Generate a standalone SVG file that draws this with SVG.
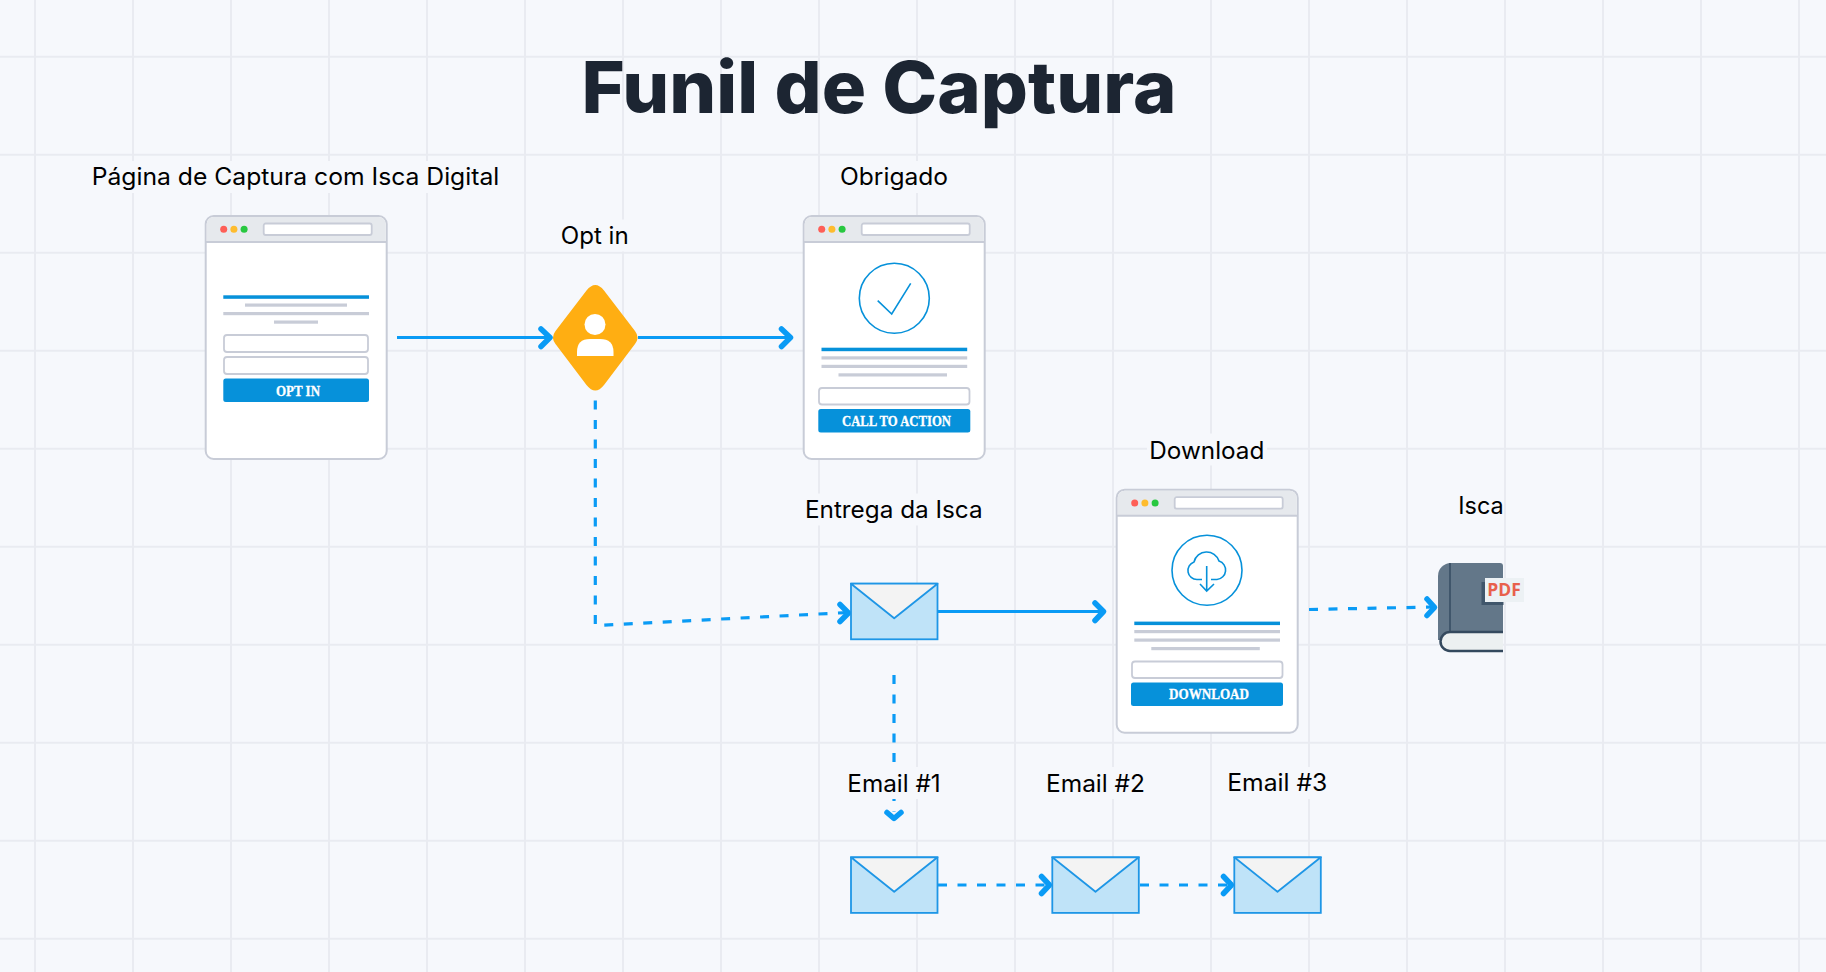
<svg xmlns="http://www.w3.org/2000/svg" width="1826" height="972" viewBox="0 0 1826 972">
<defs>
<style>
.grid{stroke:#e9ebf1;stroke-width:2;fill:none}
.lbl{font-family:"Inter","Open Sans","Liberation Sans",sans-serif;font-size:24px;fill:#000;text-anchor:middle}
.mask{fill:#f6f8fc}
.conn{stroke:#0a9bf5;stroke-width:3.200;fill:none}
.dash{stroke-dasharray:9 10.500}
.head{stroke:#0a9bf5;stroke-width:5.500;fill:none;stroke-linecap:round;stroke-linejoin:round}
.win{fill:#fff;stroke:#c8ccd7;stroke-width:2}
.bar{fill:#e6e9ed}
.url{fill:#fff;stroke:#c8ccd7;stroke-width:1.800}
.inp{fill:#fff;stroke:#c8ccd7;stroke-width:1.800}
.blue{fill:#0691da}
.gray{fill:#c8ccd7}
.btxt{font-family:"Liberation Serif",serif;font-weight:700;font-size:15px;fill:#fff;stroke:#fff;stroke-width:.3;text-anchor:middle}
.env{fill:#bfe3f8;stroke:#1e96e6;stroke-width:1.800}
.flap{fill:#f3f3f3;stroke:#1e96e6;stroke-width:1.800;stroke-linejoin:round}
.ic{fill:none;stroke:#0691da;stroke-width:1.600}
</style>
<g id="browser">
<rect class="win" x="0" y="0" width="181" height="243" rx="8"/>
<path class="bar" d="M1 26V8a7 7 0 0 1 7-7H173a7 7 0 0 1 7 7V26Z"/>
<path d="M0 26H181" stroke="#c8ccd7" stroke-width="2" fill="none"/>
<circle cx="18" cy="13.200" r="3.500" fill="#fe5f57"/><circle cx="28.200" cy="13.200" r="3.500" fill="#febc2e"/><circle cx="38.400" cy="13.200" r="3.500" fill="#28c840"/>
<rect class="url" x="58" y="7.500" width="108" height="11.500" rx="2"/>
</g>
<g id="envelope">
<rect class="env" x="0" y="0" width="86.500" height="55.600"/>
<path class="flap" d="M0 0L43.200 34.500L86.500 0Z"/>
</g>
</defs>
<rect width="1826" height="972" fill="#f6f8fc"/>
<g id="grid" class="grid">
<path d="M35 0V972M133 0V972M231 0V972M329 0V972M427 0V972M525 0V972M623 0V972M721 0V972M819 0V972M917 0V972M1015 0V972M1113 0V972M1211 0V972M1309 0V972M1407 0V972M1505 0V972M1603 0V972M1701 0V972M1799 0V972"/>
<path d="M0 56.700H1826M0 154.700H1826M0 252.700H1826M0 350.700H1826M0 448.700H1826M0 546.700H1826M0 644.700H1826M0 742.700H1826M0 840.700H1826M0 938.700H1826"/>
</g>
<text id="title" x="879" y="113" font-family="Inter,'Open Sans',sans-serif" font-weight="800" font-size="72" fill="#1c2532" text-anchor="middle" textLength="595" lengthAdjust="spacingAndGlyphs">Funil de Captura</text>
<g id="connectors">
<path class="conn" d="M397 337.500H549"/><path class="head" d="M541 329L550 337.500L541 346.500"/>
<path class="conn" d="M638 337.500H790"/><path class="head" d="M781.500 329L790.500 337.500L781.500 346.500"/>
<path class="conn dash" d="M595.300 381V625.500L848 612.500"/><path class="head" d="M840 604.500L848.500 613L840 621.500"/>
<path class="conn" d="M938 611.500H1103"/><path class="head" d="M1095 603L1103.500 611.500L1095 620.500"/>
<path class="conn dash" d="M1309 609.500L1434 607"/><path class="head" d="M1427 599L1434.500 607.300L1427 615.500"/>
<path class="conn dash" d="M894 675V812"/><path class="head" d="M887 812.500L894 818.500L901 812.500"/>
<path class="conn dash" d="M938 885H1049"/><path class="head" d="M1041.500 876.500L1049.500 885L1041.500 893.500"/>
<path class="conn dash" d="M1140 885H1231"/><path class="head" d="M1223.500 876.500L1231.500 885L1223.500 893.500"/>
</g>
<g id="page-captura">
<use href="#browser" x="205.700" y="216"/>
<rect class="blue" x="223.300" y="295.300" width="145.700" height="3.500"/>
<rect class="gray" x="245" y="303.500" width="102" height="3.200"/>
<rect class="gray" x="223.300" y="312" width="145.700" height="3.200"/>
<rect class="gray" x="274" y="320.500" width="44" height="3.200"/>
<rect class="inp" x="224" y="335" width="144" height="17" rx="3"/>
<rect class="inp" x="224" y="357" width="144" height="17" rx="3"/>
<rect class="blue" x="223.300" y="378.500" width="145.700" height="23.500" rx="2.500"/>
<text class="btxt" x="298" y="395.500" textLength="44" lengthAdjust="spacingAndGlyphs">OPT IN</text>
</g>
<g id="page-obrigado">
<use href="#browser" x="803.700" y="216"/>
<circle class="ic" cx="894.300" cy="298.300" r="35"/>
<path class="ic" d="M877.700 300.700L891.700 314L910.700 283.300"/>
<rect class="blue" x="821.500" y="347.700" width="145.700" height="3.500"/>
<rect class="gray" x="821.500" y="356.300" width="145.700" height="3.200"/>
<rect class="gray" x="821.500" y="364.800" width="145.700" height="3.200"/>
<rect class="gray" x="838.500" y="373.300" width="108.500" height="3.200"/>
<rect class="inp" x="819" y="388" width="150.500" height="16.500" rx="3"/>
<rect class="blue" x="818.300" y="409" width="152" height="23.500" rx="2.500"/>
<text class="btxt" x="896.500" y="425.700" textLength="109" lengthAdjust="spacingAndGlyphs">CALL TO ACTION</text>
</g>
<g id="page-download">
<use href="#browser" x="1116.700" y="489.700"/>
<circle class="ic" cx="1207" cy="570.300" r="35"/>
<path class="ic" d="M1202 579.500H1197A9 9 0 0 1 1194 562A13 13 0 0 1 1219 561A9.500 9.500 0 0 1 1217 579.500H1211M1206.700 566V591M1200 584L1206.700 591L1214 584"/>
<rect class="blue" x="1134.300" y="621.600" width="145.700" height="3.500"/>
<rect class="gray" x="1134.300" y="630" width="145.700" height="3.200"/>
<rect class="gray" x="1134.300" y="638.500" width="145.700" height="3.200"/>
<rect class="gray" x="1151.300" y="647" width="108.500" height="3.200"/>
<rect class="inp" x="1132" y="661.500" width="150.500" height="16.500" rx="3"/>
<rect class="blue" x="1131" y="682.500" width="152" height="23.500" rx="2.500"/>
<text class="btxt" x="1209" y="699.300" textLength="80" lengthAdjust="spacingAndGlyphs">DOWNLOAD</text>
</g>
<g id="optin">
<path d="M586.500 290.500Q595.300 279.500 604 290.500L635 331Q640 337.500 635 344L604 385Q595.300 396 586.500 385L555.500 344Q550.500 337.500 555.500 331Z" fill="#ffae12"/>
<circle cx="595" cy="324.500" r="10.500" fill="#fff"/>
<path d="M577 356V352Q577 339 590 339H600Q613.500 339 613.500 352V356Z" fill="#fff"/>
</g>
<g id="env-entrega"><use href="#envelope" x="851" y="583.700"/></g>
<g id="env-1"><use href="#envelope" x="851" y="857.300"/></g>
<g id="env-2"><use href="#envelope" x="1052.300" y="857.300"/></g>
<g id="env-3"><use href="#envelope" x="1234.300" y="857.300"/></g>
<g id="isca">
<path d="M1503 566a3 3 0 0 0-3-3H1451a13 13 0 0 0-13 13V640H1503Z" fill="#637789"/>
<path d="M1450 563V632" stroke="#40566b" stroke-width="2" fill="none"/>
<path d="M1503 632H1450a9.500 9.500 0 0 0 0 19H1503Z" fill="#ecf0f1"/>
<path d="M1503 632H1450a9.500 9.500 0 0 0 0 19H1503" fill="none" stroke="#34495e" stroke-width="2.500"/>
<rect x="1481.500" y="582" width="22" height="23" fill="#40566b"/>
<rect x="1485" y="578" width="39" height="24" fill="#ecf1f4"/>
<text x="1504" y="595.700" font-family="'Open Sans',sans-serif" font-weight="700" font-size="17" fill="#e8604c" text-anchor="middle" textLength="33.500" lengthAdjust="spacingAndGlyphs">PDF</text>
</g>
<g id="labels">
<rect class="mask" x="90" y="161" width="412" height="32"/><text class="lbl" x="295.500" y="185" textLength="407.600" lengthAdjust="spacingAndGlyphs">Página de Captura com Isca Digital</text>
<rect class="mask" x="558" y="219.500" width="74" height="32"/><text class="lbl" x="594.700" y="244" textLength="68" lengthAdjust="spacingAndGlyphs">Opt in</text>
<rect class="mask" x="838" y="161" width="114" height="32"/><text class="lbl" x="894" y="185" textLength="108" lengthAdjust="spacingAndGlyphs">Obrigado</text>
<rect class="mask" x="803" y="493.500" width="182" height="32"/><text class="lbl" x="893.800" y="518.300" textLength="177.700" lengthAdjust="spacingAndGlyphs">Entrega da Isca</text>
<rect class="mask" x="1147" y="433.500" width="120" height="32"/><text class="lbl" x="1206.800" y="459" textLength="115" lengthAdjust="spacingAndGlyphs">Download</text>
<rect class="mask" x="1456" y="490" width="48" height="32"/><text class="lbl" x="1481" y="514" textLength="45.400" lengthAdjust="spacingAndGlyphs">Isca</text>
<rect class="mask" x="846" y="767" width="96" height="32"/><text class="lbl" x="894" y="791.500" textLength="93.400" lengthAdjust="spacingAndGlyphs">Email #1</text>
<rect class="mask" x="1044" y="767" width="104" height="32"/><text class="lbl" x="1095.500" y="791.500" textLength="99" lengthAdjust="spacingAndGlyphs">Email #2</text>
<rect class="mask" x="1226" y="767" width="104" height="32"/><text class="lbl" x="1277.300" y="790.500" textLength="100" lengthAdjust="spacingAndGlyphs">Email #3</text>
</g>
</svg>
